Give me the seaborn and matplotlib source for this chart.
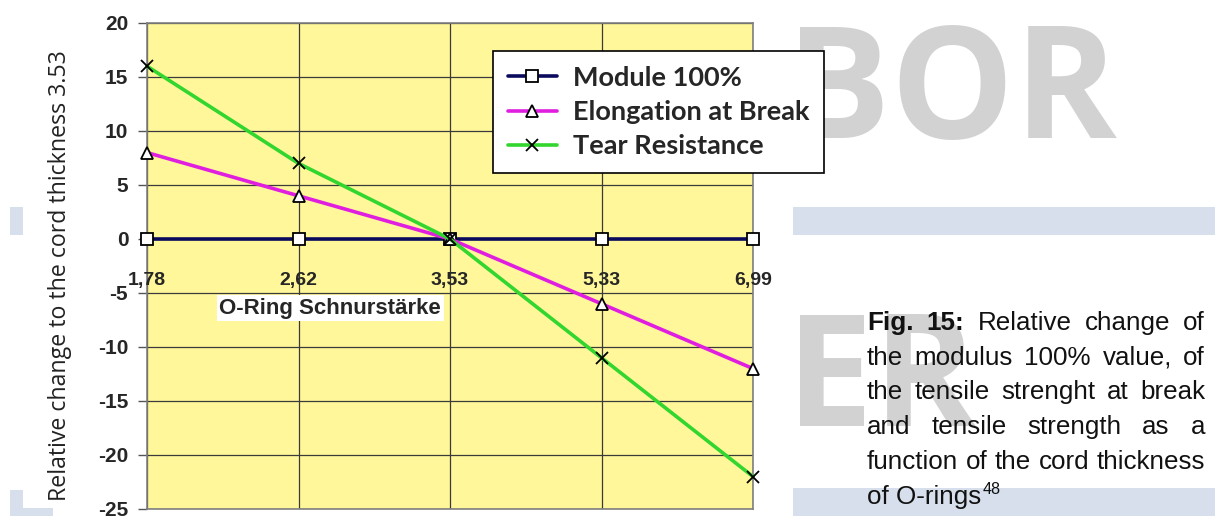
import numpy as np
import pandas as pd
import matplotlib
matplotlib.use('Agg')
import matplotlib.pyplot as plt
from matplotlib.lines import Line2D
from matplotlib.patches import Rectangle
import seaborn as sns

# values
thickness = ['1,78', '2,62', '3,53', '5,33', '6,99']
module_100 = [0, 0, 0, 0, 0]
elongation = [8, 4, 0, -6, -12]
tear = [16, 7, 0, -11, -22]
series_names = ['Module 100%', 'Elongation at Break', 'Tear Resistance']
y_ticks = [20, 15, 10, 5, 0, -5, -10, -15, -20, -25]

caption_lines = [
    [('Fig.', 'bold'), ('15:', 'bold'), ('Relative', 'normal'), ('change', 'normal'), ('of', 'normal')],
    [('the', 'normal'), ('modulus', 'normal'), ('100%', 'normal'), ('value,', 'normal'), ('of', 'normal')],
    [('the', 'normal'), ('tensile', 'normal'), ('strenght', 'normal'), ('at', 'normal'), ('break', 'normal')],
    [('and', 'normal'), ('tensile', 'normal'), ('strength', 'normal'), ('as', 'normal'), ('a', 'normal')],
    [('function', 'normal'), ('of', 'normal'), ('the', 'normal'), ('cord', 'normal'), ('thickness', 'normal')],
]

W, H = 1215, 523


def fx(px):
    return px / W


def fy(py):
    return 1 - py / H


sns.set_style('white')
plt.rcParams['font.family'] = ['Liberation Sans', 'DejaVu Sans']
plt.rcParams['axes.unicode_minus'] = False

fig = plt.figure(figsize=(12.15, 5.23), dpi=100)
fig.patch.set_facecolor('white')

# page decoration behind the chart
for (x0, y0, x1, y1) in [(793, 207, 1215, 235), (793, 488, 1215, 516),
                         (10, 207, 23, 235), (10, 490, 23, 516), (10, 508, 53, 516)]:
    fig.patches.append(Rectangle((fx(x0), fy(y1)), fx(x1) - fx(x0), fy(y0) - fy(y1),
                                 transform=fig.transFigure, color='#d6dfeb', zorder=-6, lw=0))
fig.text(fx(786), fy(138), 'BOR', fontsize=112, family='Open Sans', weight='bold',
         color='#d2d2d2', ha='left', va='baseline', zorder=-5)
fig.text(fx(786), fy(426), 'ER', fontsize=112, family='Open Sans', weight='bold',
         color='#d2d2d2', ha='left', va='baseline', zorder=-5)

ax = fig.add_axes([fx(147), fy(509), fx(753) - fx(147), fy(23) - fy(509)])
ax.set_facecolor('#fff799')

df = pd.DataFrame({
    'pos': list(range(len(thickness))) * 3,
    'value': module_100 + elongation + tear,
    'series': np.repeat(series_names, len(thickness)),
})
colors = {'Module 100%': '#0b0b5e', 'Elongation at Break': '#e01ee0', 'Tear Resistance': '#33d62e'}
markers = {'Module 100%': 's', 'Elongation at Break': '^', 'Tear Resistance': 'x'}

for name in series_names:
    sub = df[df['series'] == name]
    sns.lineplot(data=sub, x='pos', y='value', color=colors[name], marker=markers[name],
                 linewidth=2.6, markersize=8, markerfacecolor='white', markeredgecolor='black',
                 markeredgewidth=1.3, ax=ax, zorder=3, clip_on=False)

ax.set_xlim(0, len(thickness) - 1)
ax.set_ylim(-25, 20)
ax.set_yticks(y_ticks)
ax.set_xticks(range(len(thickness)))
ax.set_xticklabels([])
ax.grid(True, color='#3a3a3a', lw=0.9)
ax.set_axisbelow(True)
ax.tick_params(axis='x', length=0)
ax.tick_params(axis='y', direction='out', length=6.5, width=1, color='#555555', pad=7, left=True)
for lab in ax.get_yticklabels():
    lab.set_fontweight('bold')
    lab.set_fontsize(15)
for sp in ax.spines.values():
    sp.set_visible(True)
    sp.set_color('#808080')
    sp.set_linewidth(1.2)
ax.set_xlabel('')
ax.set_ylabel('')

# category labels sit inside the plot, just under the zero line
for i, lab in enumerate(thickness):
    ax.text(i, -3.8, lab, ha='center', va='center', fontsize=14, weight='bold', zorder=4)
ax.text(1.21, -6.4, 'O-Ring Schnurstärke', ha='center', va='center', fontsize=16, weight='bold',
        bbox=dict(facecolor='white', edgecolor='none', pad=2), zorder=4)

handles = [Line2D([], [], color=colors[n], marker=markers[n], lw=2.6, ms=8, mfc='white',
                  mec='black', mew=1.3) for n in series_names]
leg = ax.legend(handles, series_names, loc='upper left', bbox_to_anchor=(fx(493), fy(51)),
                bbox_transform=fig.transFigure, frameon=True, fancybox=False, edgecolor='black',
                framealpha=1, prop=dict(family='Lato', weight='bold', size=19.5),
                handlelength=1.8, handletextpad=0.6, labelspacing=0.38, borderpad=0.55,
                borderaxespad=0)
leg.get_frame().set_linewidth(1.2)

fig.text(fx(60), fy(276), 'Relative change to the cord thickness 3.53', rotation=90,
         ha='center', va='center', fontsize=16.7, family='Open Sans', color='#222222')

# justified caption block
renderer = fig.canvas.get_renderer()
cap_size = 18.7
left, right = 867, 1205
line_y = [323, 358, 392, 427, 462]


def word_width(word, weight):
    t = fig.text(0, 0, word, fontsize=cap_size, weight=weight)
    w = t.get_window_extent(renderer).width
    t.remove()
    return w


for words, yy in zip(caption_lines, line_y):
    widths = [word_width(w, wt) for w, wt in words]
    gap = (right - left - sum(widths)) / (len(words) - 1)
    x = left
    for (w, wt), ww in zip(words, widths):
        fig.text(fx(x), fy(yy), w, fontsize=cap_size, weight=wt, color='#111111',
                 ha='left', va='center', zorder=3)
        x += ww + gap
fig.text(fx(left), fy(497), 'of O-rings', fontsize=cap_size, color='#111111', ha='left', va='center')
ow = word_width('of O-rings', 'normal')
fig.text(fx(left + ow + 1), fy(489), '48', fontsize=cap_size * 0.62, color='#111111',
         ha='left', va='center')

fig.savefig('out.png', dpi=100)
